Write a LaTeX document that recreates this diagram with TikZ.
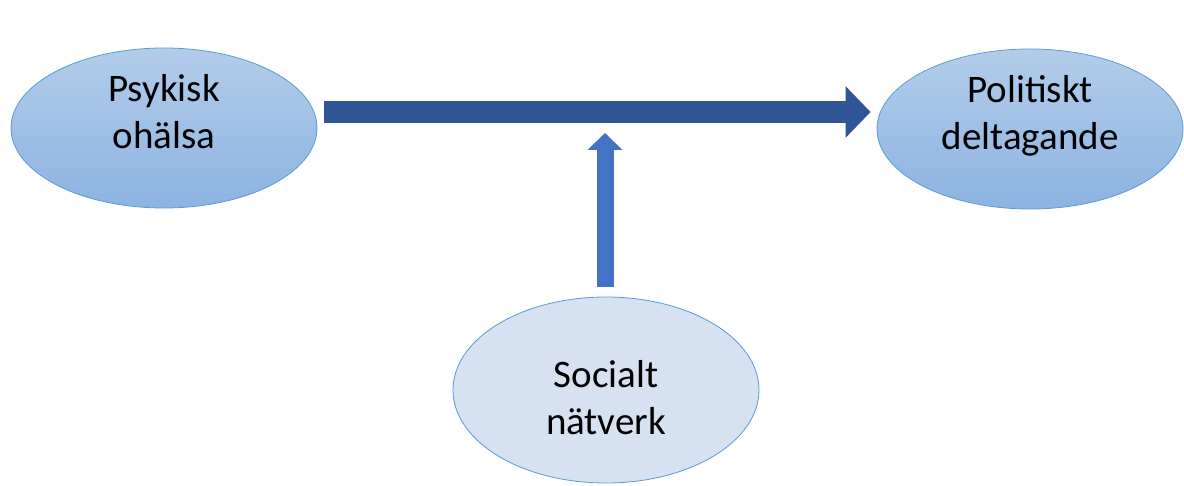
\documentclass[tikz,border=0pt]{standalone}
\usepackage{fontspec}
\setmainfont{Carlito}
\usetikzlibrary{shapes.geometric, arrows.meta, calc}

\definecolor{ellline}{HTML}{5B9BD5}
\definecolor{elltop}{HTML}{B2CDE9}
\definecolor{ellbot}{HTML}{8DB3E2}
\definecolor{softfill}{HTML}{D6E1F2}
\definecolor{darkarrow}{HTML}{2F5597}
\definecolor{midarrow}{HTML}{4472C4}

\tikzset{
	factor/.style={ellipse, draw=ellline, line width=0.8pt, top color=elltop, bottom color=ellbot,
		minimum width=306pt, minimum height=160pt, align=center, inner sep=0pt,
		font=\fontsize{39}{47}\selectfont},
	moderator/.style={factor, top color=softfill, bottom color=softfill, fill=softfill, minimum height=186pt},
	mainarrow/.style={darkarrow, line width=22pt, -{Triangle[length=25pt, width=50pt]}},
	modarrow/.style={midarrow, line width=17pt, -{Triangle[length=17pt, width=34pt]}}
}

\begin{document}
\begin{tikzpicture}[x=1pt, y=-1pt]
		\useasboundingbox (0,0) rectangle (1184,486);
		\node[factor] (psy) at (164, 128) {Psykisk\\ohälsa\\[-14pt]\mbox{}};
		\node[factor] (pol) at (1030, 129) {Politiskt\\deltagande\\[-14pt]\mbox{}};
		\node[moderator] (soc) at (606, 390) {\mbox{}\\[-4pt]Socialt\\nätverk};

		\coordinate (hs) at ($(psy.east)+(7,-16)$);
		\coordinate (he) at ($(pol.west)+(-6,-17)$);
		\coordinate (vt) at ($(hs)!0.5!(he)+(0,21)$);

		\draw[mainarrow] (hs) -- (he);
		\draw[modarrow] ($(soc.north)+(-1,-10)$) -- (vt -| {$(soc.north)+(-1,0)$});
	\end{tikzpicture}
\end{document}
